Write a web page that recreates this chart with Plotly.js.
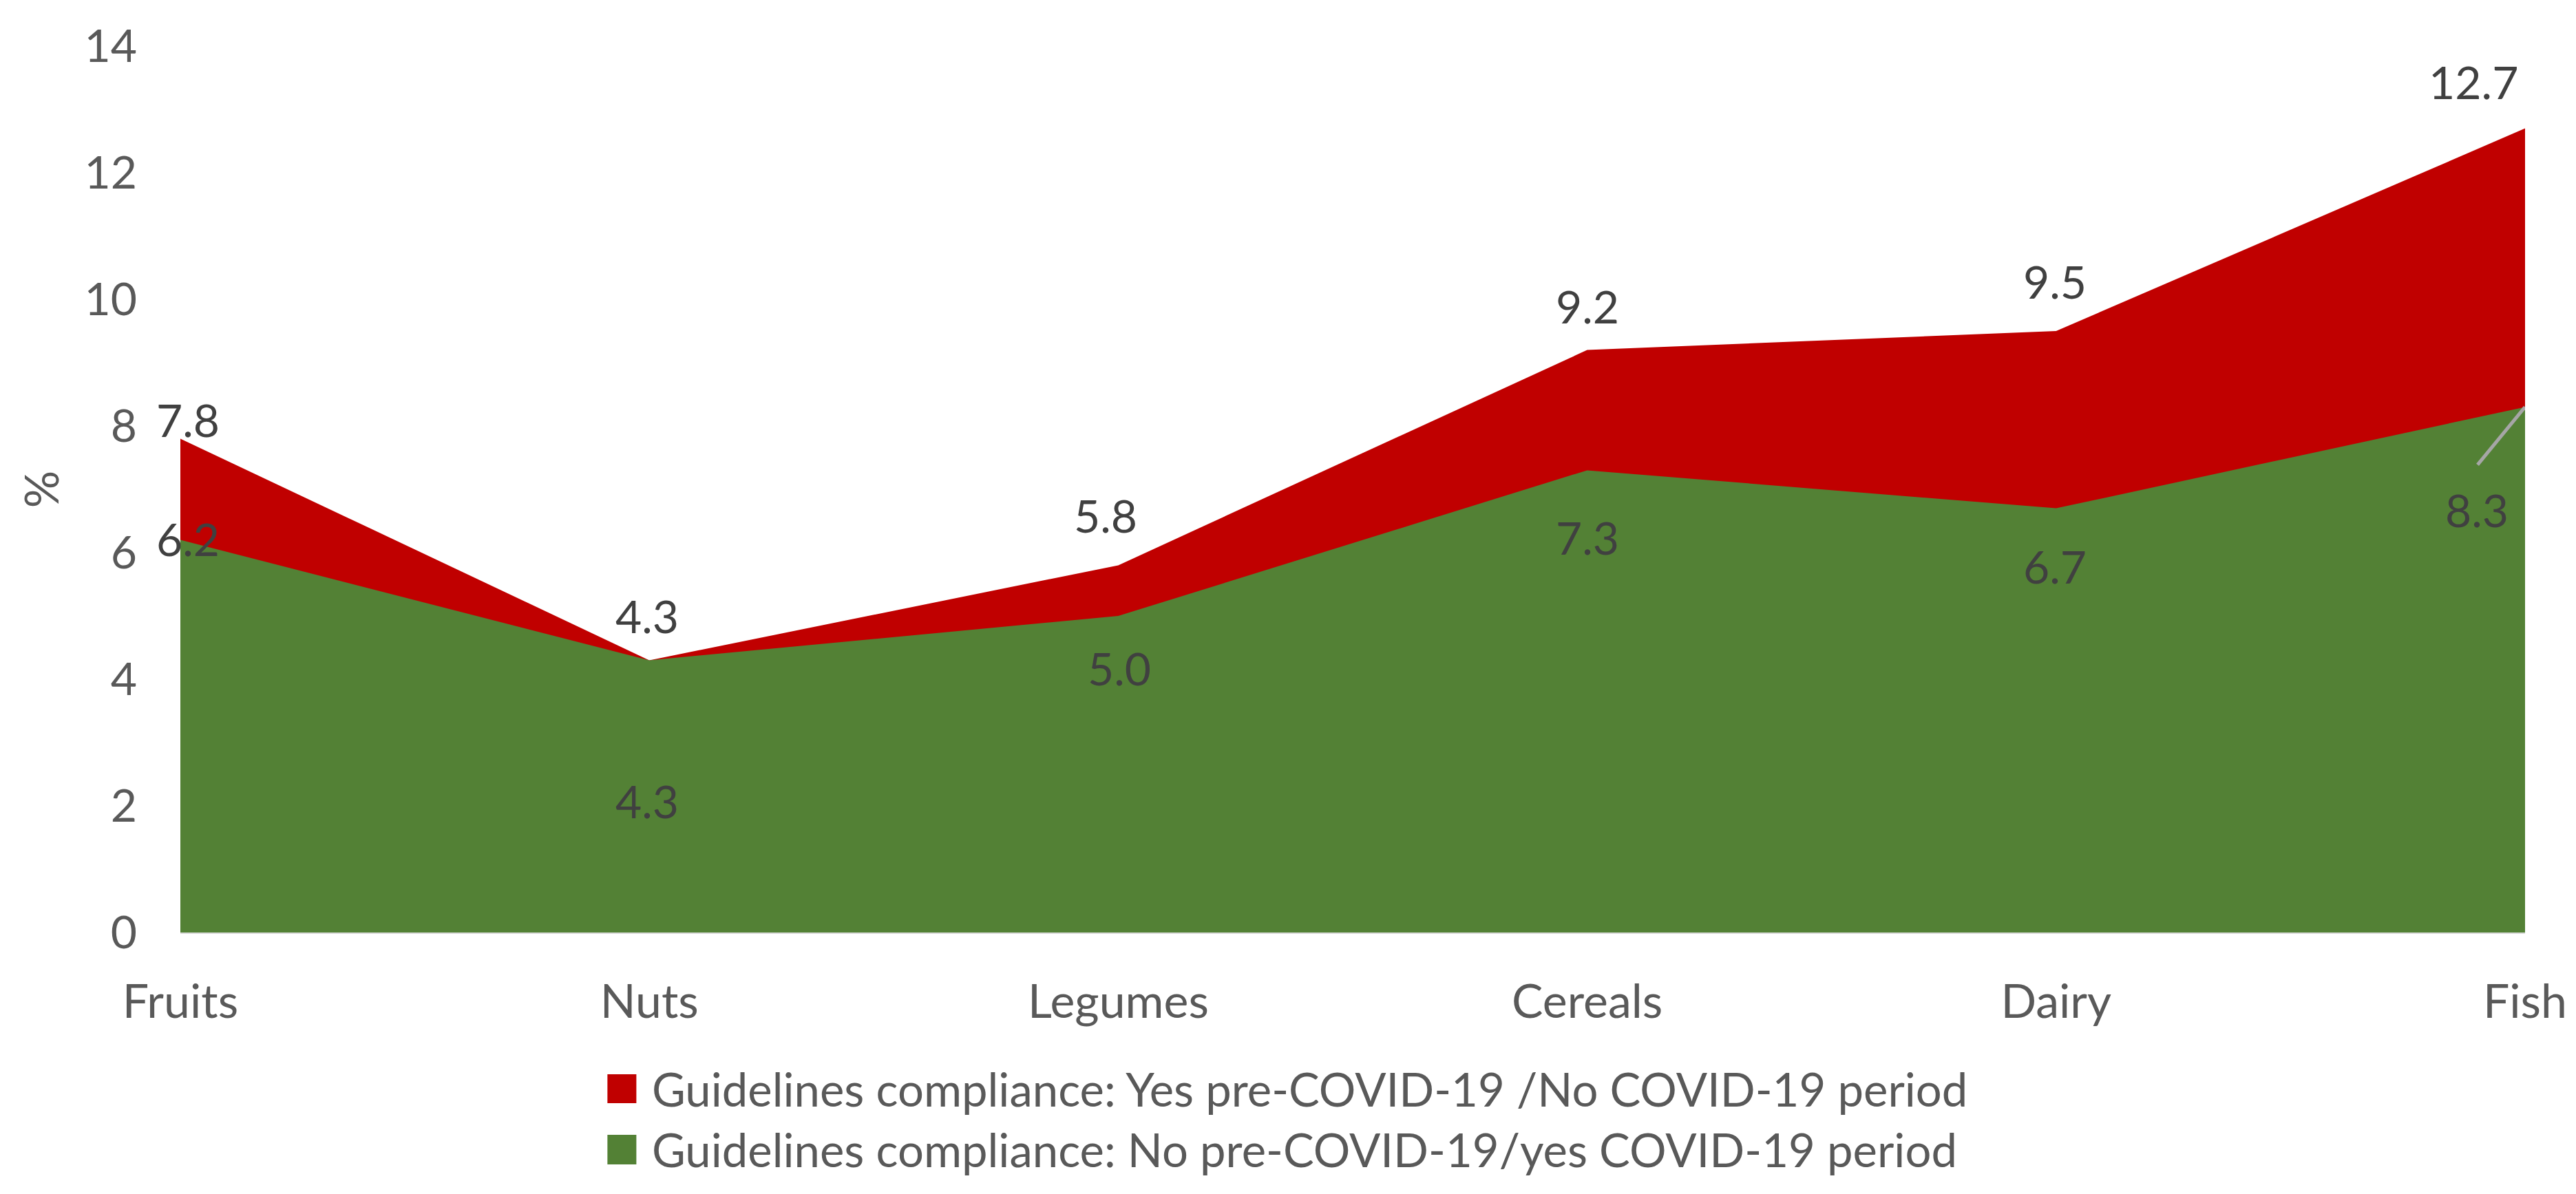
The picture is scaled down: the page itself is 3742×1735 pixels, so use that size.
<!DOCTYPE html>
<html><head><meta charset="utf-8">
<script src="https://cdn.plot.ly/plotly-3.0.1.min.js"></script>
<style>html,body{margin:0;padding:0;background:#fff}</style>
</head><body><div id="chart" style="width:3742px;height:1735px"></div>
<script>
// ---- data ----
const categories = ['Fruits', 'Nuts', 'Legumes', 'Cereals', 'Dairy', 'Fish'];
const yesPreNoCovid = [7.8, 4.3, 5.8, 9.2, 9.5, 12.7];
const noPreYesCovid = [6.2, 4.3, 5.0, 7.3, 6.7, 8.3];
const seriesNames = [
  'Guidelines compliance: Yes pre-COVID-19 /No COVID-19 period',
  'Guidelines compliance: No pre-COVID-19/yes COVID-19 period'
];
const yTickValues = [0, 2, 4, 6, 8, 10, 12, 14];
const yAxisTitle = '%';

// ---- styles ----
const colors = ['#C00000', '#538135'];
const textFont = 'Lato, "Open Sans", sans-serif';
const redLabelShift = [[11, 28], [-3, 65], [-18, 73], [0, 64], [-2, 73], [-75, 68]];
const greenLabelShift = [[11, 2], [-3, -204], [2, -75], [0, -97], [-2, -84], [-70, -149]];

const traces = [
  {x: categories, y: yesPreNoCovid, name: seriesNames[0], type: 'scatter', mode: 'none',
   fill: 'tozeroy', fillcolor: colors[0], hoverinfo: 'skip', showlegend: false},
  {x: categories, y: noPreYesCovid, name: seriesNames[1], type: 'scatter', mode: 'none',
   fill: 'tozeroy', fillcolor: colors[1], hoverinfo: 'skip', showlegend: false}
];

const annotations = [];
function addLabels(vals, shifts) {
  vals.forEach((v, i) => {
    annotations.push({x: categories[i], y: v, xref: 'x', yref: 'y', text: v.toFixed(1),
      showarrow: false, xanchor: 'center', yanchor: 'middle',
      xshift: shifts[i][0], yshift: shifts[i][1],
      font: {family: textFont, size: 66, color: '#404040'}});
  });
}
addLabels(yesPreNoCovid, redLabelShift);
addLabels(noPreYesCovid, greenLabelShift);

// legend (custom, square swatches)
const L = 262, PW = 3404, B = 1355, PH = 1288;
const px = v => (v - L) / PW, py = v => (B - v) / PH;
const legendRows = [[1561, 1603, 1582], [1649, 1692, 1670]];
const shapes = [];
legendRows.forEach((r, i) => {
  shapes.push({type: 'rect', xref: 'paper', yref: 'paper', x0: px(882), x1: px(924),
    y0: py(r[0]), y1: py(r[1]), fillcolor: colors[i], line: {width: 0}});
  annotations.push({xref: 'paper', yref: 'paper', x: px(945), y: py(r[2]), text: seriesNames[i],
    showarrow: false, xanchor: 'left', yanchor: 'middle',
    font: {family: textFont, size: 67, color: '#595959'}});
});
// leader line for the last green label
shapes.push({type: 'line', xref: 'x', yref: 'y', xsizemode: 'pixel', ysizemode: 'pixel',
  xanchor: categories[5], yanchor: noPreYesCovid[5], x0: 0, y0: 0, x1: -69, y1: -84,
  line: {color: '#A6A6A6', width: 5}});

const layout = {
  width: 3742, height: 1735,
  margin: {l: 262, r: 74, t: 67, b: 380, pad: 0},
  paper_bgcolor: '#fff', plot_bgcolor: '#fff',
  showlegend: false,
  font: {family: textFont, color: '#595959'},
  xaxis: {type: 'category', range: [0, 5], showgrid: false, zeroline: false,
    showline: true, linecolor: '#D9D9D9', linewidth: 2, ticks: '',
    ticklabelstandoff: 40,
    tickfont: {family: textFont, size: 68, color: '#595959'}, fixedrange: true},
  yaxis: {range: [0, 14], tickvals: yTickValues, showgrid: false, zeroline: false,
    showline: false, ticks: '', ticklabelstandoff: 62,
    tickfont: {family: textFont, size: 66, color: '#595959'},
    title: {text: yAxisTitle, standoff: 14, font: {family: textFont, size: 68, color: '#595959'}},
    fixedrange: true},
  annotations: annotations,
  shapes: shapes
};

Plotly.newPlot('chart', traces, layout, {staticPlot: true, displayModeBar: false});
</script></body></html>
